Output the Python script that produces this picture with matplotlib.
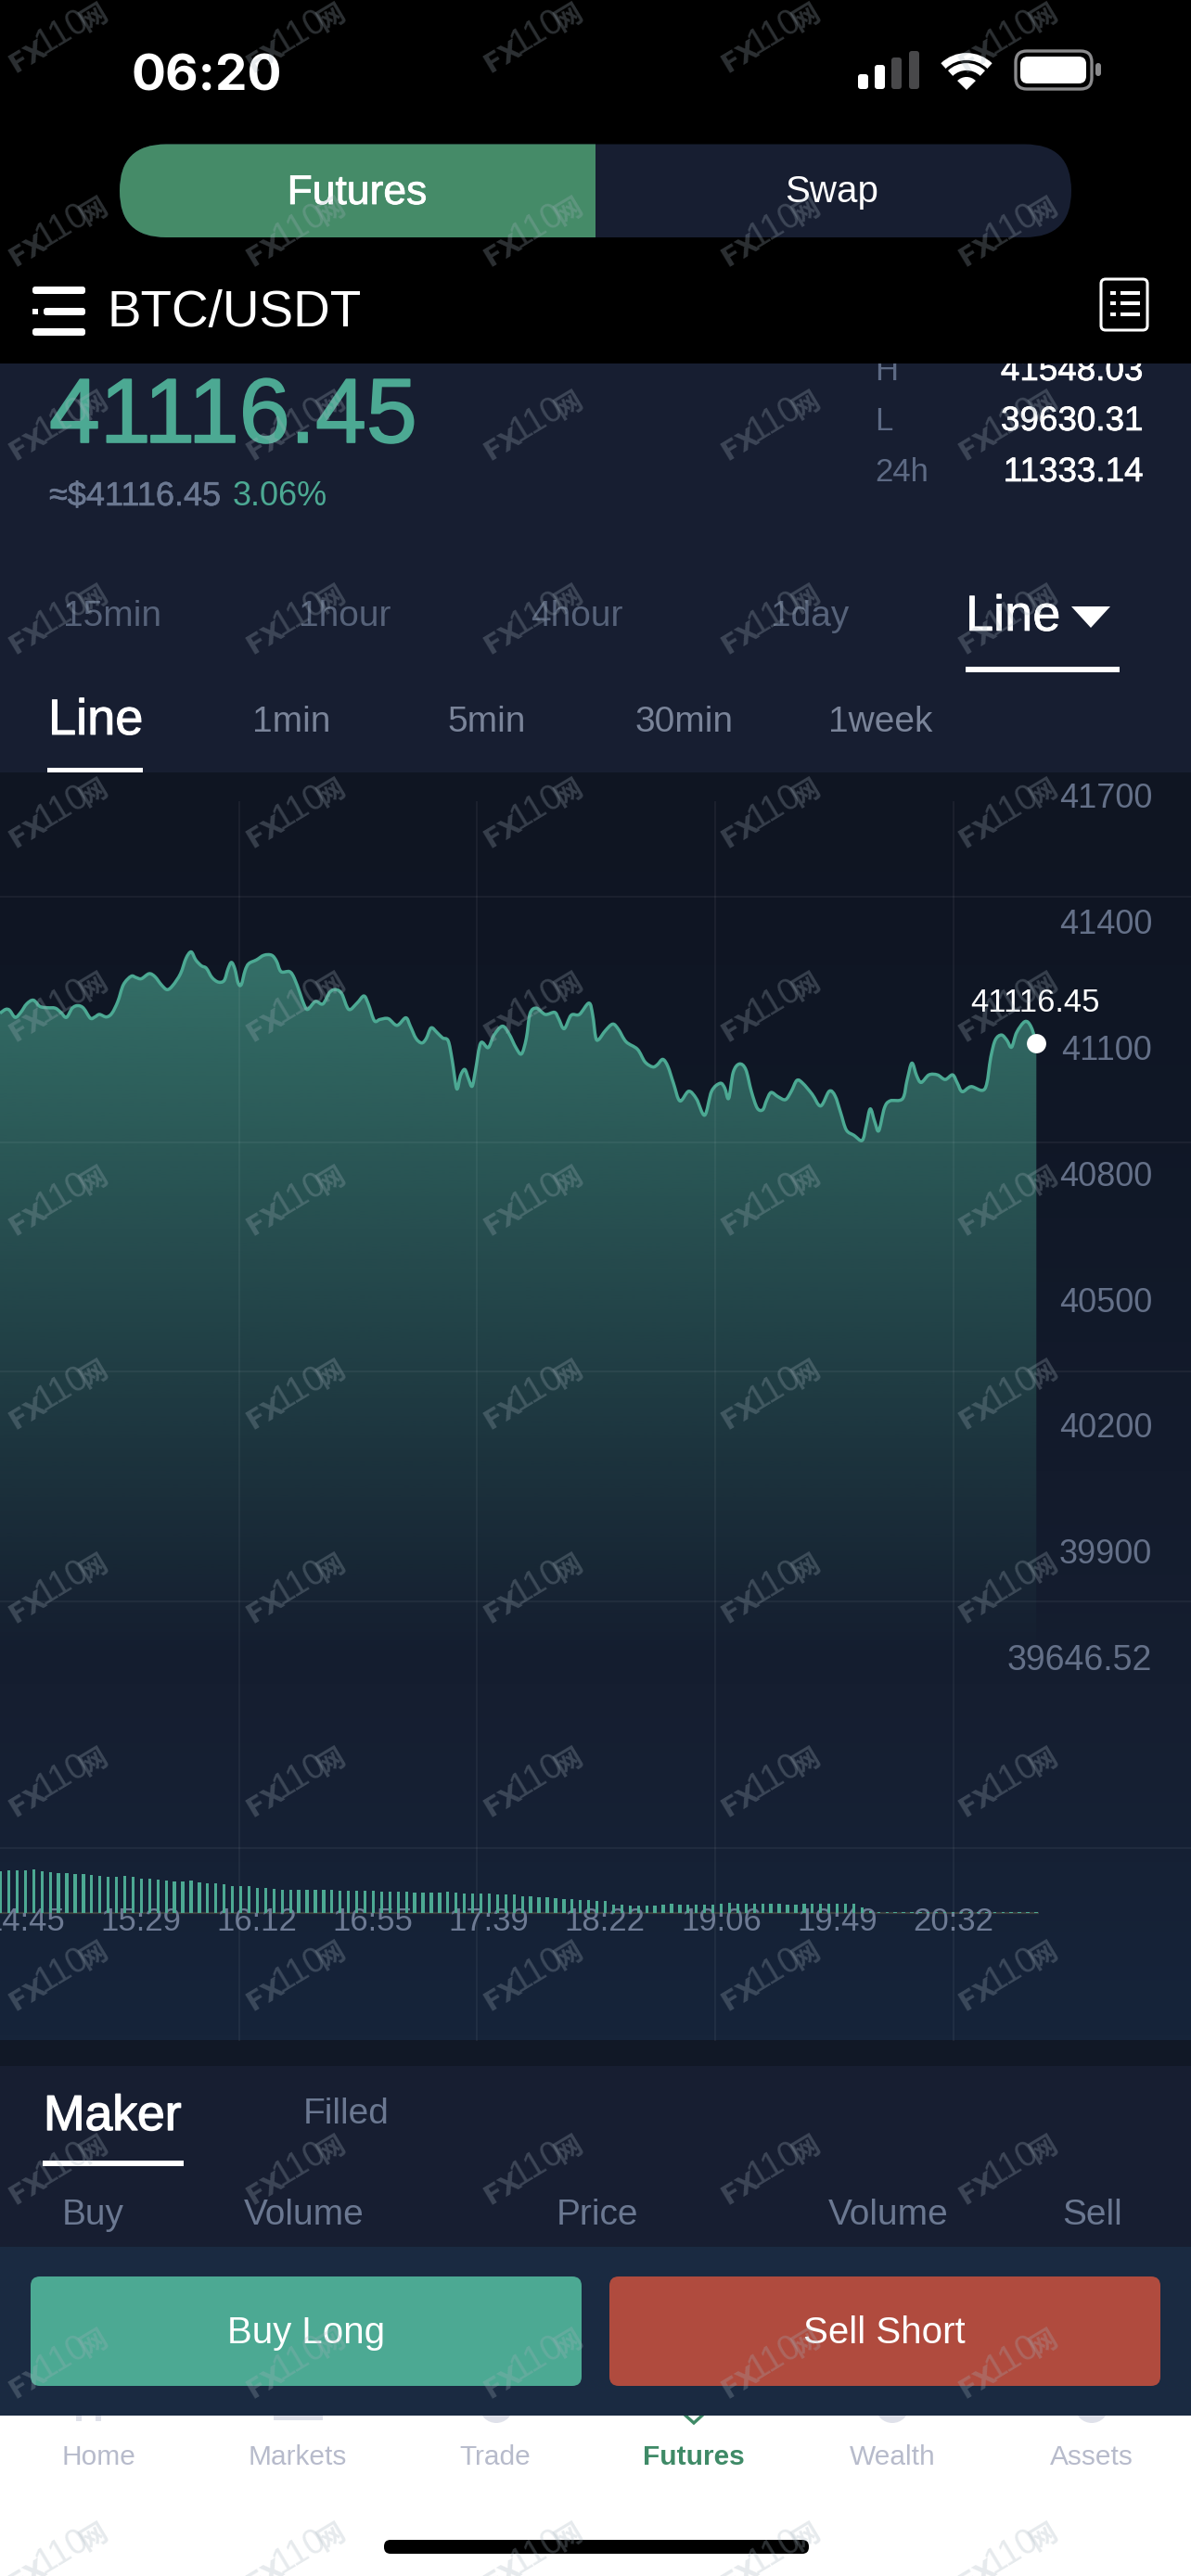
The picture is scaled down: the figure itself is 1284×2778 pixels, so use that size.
import numpy as np
import matplotlib
matplotlib.use("Agg")
import matplotlib.pyplot as plt
import matplotlib.patheffects as pe
from matplotlib.patches import FancyBboxPatch, Rectangle, Arc, Wedge, Polygon, Circle, PathPatch
from matplotlib.path import Path
from matplotlib.colors import LinearSegmentedColormap, to_rgb

W, H = 1284, 2778
plt.rcParams['font.family'] = ['Liberation Sans', 'Noto Sans CJK SC', 'DejaVu Sans']

# price line, x = minutes since midnight
line_minutes = [876.3, 878.4, 879.9, 882.0, 884.1, 886.3, 888.8, 891.3, 894.1, 897.0, 899.1, 901.2, 903.4, 905.5,
                907.6, 910.2, 911.9, 913.6, 916.2, 918.3, 920.5, 922.6, 925.5, 927.3, 929.3, 932.2, 934.4, 936.9,
                939.0, 941.1, 944.0, 946.1, 948.0, 949.7, 951.8, 953.7, 955.8, 958.2, 960.4, 961.8, 963.1, 964.4,
                965.6, 966.8, 968.2, 969.6, 972.5, 975.3, 978.2, 980.0, 981.7, 984.9, 986.7, 988.9, 990.3, 991.7,
                994.6, 997.4, 1000.0, 1002.4, 1004.5, 1007.1, 1010.2, 1012.8, 1014.5, 1016.7, 1018.8, 1021.9,
                1025.2, 1028.5, 1030.2, 1032.3, 1034.5, 1036.2, 1038.0, 1040.2, 1042.3, 1044.4, 1045.9, 1047.6,
                1049.0, 1050.6, 1052.0, 1053.4, 1054.7, 1056.6, 1059.4, 1061.5, 1064.7, 1067.2, 1069.8, 1071.9,
                1073.7, 1075.1, 1077.5, 1080.8, 1084.3, 1085.8, 1087.9, 1090.5, 1093.6, 1097.2, 1098.6, 1099.7,
                1100.8, 1103.3, 1106.1, 1108.2, 1111.1, 1115.4, 1118.2, 1121.1, 1122.8, 1124.9, 1126.8, 1128.9,
                1131.3, 1134.6, 1137.5, 1140.6, 1143.2, 1146.4, 1148.1, 1149.6, 1151.3, 1153.6, 1156.0, 1158.1,
                1160.3, 1162.4, 1163.8, 1165.5, 1168.1, 1170.9, 1173.1, 1175.2, 1177.4, 1180.9, 1184.1, 1187.3,
                1189.5, 1191.6, 1193.7, 1196.6, 1199.7, 1201.2, 1202.7, 1204.4, 1205.9, 1208.0, 1210.1, 1214.8,
                1216.5, 1218.3, 1220.1, 1221.8, 1224.7, 1227.9, 1230.8, 1233.6, 1235.4, 1237.2, 1240.5, 1245.7,
                1247.9, 1249.6, 1251.9, 1253.9, 1255.7, 1257.6, 1260.7, 1262.9, 1265.0]
line_price = [41187, 41196, 41194, 41177, 41189, 41209, 41218, 41203, 41200, 41199, 41189, 41177, 41199, 41205,
              41199, 41175, 41178, 41184, 41178, 41187, 41215, 41255, 41275, 41272, 41269, 41281, 41274, 41254,
              41243, 41253, 41281, 41318, 41333, 41314, 41300, 41294, 41272, 41261, 41265, 41292, 41308, 41292,
              41259, 41255, 41288, 41305, 41314, 41325, 41325, 41311, 41286, 41286, 41270, 41233, 41208, 41196,
              41215, 41209, 41237, 41243, 41233, 41196, 41211, 41228, 41208, 41169, 41172, 41174,
              41158, 41176, 41156, 41127, 41116, 41127, 41152, 41141, 41128, 41121, 41075, 41007,
              41038, 41053, 41031, 41013, 41053, 41116, 41105, 41134, 41156, 41138, 41105, 41090,
              41127, 41186, 41199, 41184, 41189, 41174, 41150, 41182, 41184, 41211, 41182, 41130,
              41124, 41145, 41161, 41149, 41119, 41101, 41071, 41059, 41064, 41077, 41060, 41020,
              40978, 41001, 40983, 40944, 41001, 41020, 41009, 40984, 41046, 41066, 41053, 41001,
              40961, 40957, 40979, 40998, 40988, 40981, 41001, 41027, 41020, 40994, 40966, 41001,
              40990, 40950, 40909, 40896, 40884, 40920, 40959, 40928, 40907, 40961, 40978, 40983,
              41027, 41068, 41038, 41022, 41040, 41040, 41029, 41040, 41020, 41000, 41012, 41007,
              41082, 41123, 41135, 41123, 41106, 41141, 41167, 41156, 41116.45]
last_price = 41116.45
low_price = 39646.52

# volume bars, one per candle
volume = [136, 137, 138, 139, 140, 136, 131, 130, 128, 127, 125, 123, 119, 118, 117, 119, 116, 112, 110, 108, 105,
          103, 103, 104, 99, 97, 95, 92, 88, 88, 88, 82, 80, 78, 76, 76, 76, 75, 74, 75, 74, 72, 73,
          72, 72, 71, 68, 68, 69, 68, 67, 65, 65, 67, 69, 67, 63, 62, 63, 62, 60, 60, 59, 54, 53, 52, 50, 48, 45,
          44, 43, 42, 40, 40, 28, 26, 25, 24, 25, 25, 27, 29, 28, 28, 28, 27, 28, 29, 32,
          30, 30, 30, 30, 30, 31, 28, 28, 30, 30, 30, 30, 30, 30, 30, 18, 7,
          3, 3, 3, 3, 3, 3, 3, 3, 3, 3, 3, 3, 3, 3, 3, 3, 3, 3, 3, 3]
volume_start = 876.5
volume_step = 3.107

price_ticks = [41700, 41400, 41100, 40800, 40500, 40200, 39900]
time_labels = ['14:45', '15:29', '16:12', '16:55', '17:39', '18:22', '19:06', '19:49', '20:32']
time_slots = [885.5, 929.0, 972.6, 1016.1, 1059.7, 1103.2, 1146.8, 1190.3, 1233.9]

stat_names = ['H', 'L', '24h']
stat_values = ['41548.03', '39630.31', '11333.14']
tabs_top = ['15min', '1hour', '4hour', '1day']
tabs_top_x = [121, 372, 622, 873]
tabs_low = ['1min', '5min', '30min', '1week']
tabs_low_x = [314, 525, 738, 949]
book_heads = ['Buy', 'Volume', 'Price', 'Volume', 'Sell']
book_heads_x = [100, 328, 644, 958, 1178]
nav_names = ['Home', 'Markets', 'Trade', 'Futures', 'Wealth', 'Assets']
nav_x = [106, 321, 534, 748, 962, 1177]

GREEN = '#4ca993'
NAVY = '#171e31'
DIM = '#6b7891'
XMIN, XMAX = 876.3, 1323.0
YMIN, YMAX = 38740.8, 41760.5
PX_PER_USD = 0.4527

fig = plt.figure(figsize=(W / 100, H / 100), dpi=100, facecolor='black')

# page layer in pixel coordinates
ax = fig.add_axes([0, 0, 1, 1], zorder=0)
ax.set_xlim(0, W)
ax.set_ylim(H, 0)
ax.axis('off')


def label(x, y, s, size, color='white', ha='center', z=2, heavy=0, **kw):
    t = ax.text(x, y, s, fontsize=size, color=color, ha=ha, va='baseline', zorder=z, **kw)
    if heavy:
        t.set_path_effects([pe.withStroke(linewidth=heavy, foreground=color)])
    return t


def rbox(x0, y0, x1, y1, r, **kw):
    p = FancyBboxPatch((x0, y0), x1 - x0, y1 - y0, boxstyle='round,pad=0,rounding_size=%s' % r, **kw)
    ax.add_patch(p)
    return p


def rect(x0, y0, x1, y1, color, z=1):
    ax.add_patch(Rectangle((x0, y0), x1 - x0, y1 - y0, fc=color, ec='none', zorder=z))


def smooth_path(xs, ys):
    # bezier through the read points, the app draws its line rounded too
    pts = np.column_stack([xs, ys]).astype(float)
    tan = np.gradient(pts, axis=0)
    verts = [pts[0]]
    codes = [Path.MOVETO]
    for i in range(len(pts) - 1):
        verts += [pts[i] + tan[i] / 3, pts[i + 1] - tan[i + 1] / 3, pts[i + 1]]
        codes += [Path.CURVE4] * 3
    return np.array(verts), codes


# main blocks
rect(0, 392, W, 833, NAVY)
rect(0, 2200, W, 2228, '#111826')
rect(0, 2228, W, 2423, NAVY)
rect(0, 2605, W, H, 'white')
bg_cmap = LinearSegmentedColormap.from_list('bg', [(0, '#0f1522'), (0.15, '#0f1624'), (0.55, '#131b2c'),
                                                   (0.72, '#151e30'), (1, '#16243a')])
ax.imshow(np.linspace(0, 1, 256).reshape(-1, 1), extent=(0, W, 2200, 833), cmap=bg_cmap, aspect='auto', zorder=1)
ax.set_xlim(0, W)
ax.set_ylim(H, 0)

# icon stubs poking out under the buttons panel
stub = '#dfe1ea'
rect(82, 2600, 88, 2611, stub, 2)
rect(103, 2600, 109, 2611, stub, 2)
rect(295, 2600, 348, 2610, stub, 2)
for cx in [535, 962, 1177]:
    ax.add_patch(Circle((cx, 2595), 18, fc=stub, ec='none', zorder=2))
ax.add_patch(Polygon([[737, 2603], [748, 2613], [759, 2603]], closed=False, fc='none', ec='#3f8a67', lw=2.4, zorder=2))
rect(0, 2423, W, 2605, '#1a2a41', 3)

# black header sits over the scrolled stats
rect(0, 0, W, 392, 'black', 5)

# status bar
label(142, 97, '06:20', 39.5, ha='left', z=6, weight='bold', family='Inter')
sig_x = [925, 943, 961, 980]
sig_top = [80, 70, 62, 55]
sig_col = ['white', 'white', '#48484a', '#48484a']
for sx, st, sc in zip(sig_x, sig_top, sig_col):
    rbox(sx, st, sx + 11, 96, 3, fc=sc, ec='none', zorder=6)
ax.add_patch(Wedge((1042, 97), 14, 225, 315, fc='white', ec='none', zorder=6))
for rad in [25, 36]:
    ax.add_patch(Arc((1042, 97), rad * 2, rad * 2, theta1=226, theta2=314, color='white', lw=5.6, zorder=6))
rbox(1095, 55, 1177, 96, 12, fc='none', ec='#8a8a8c', lw=2.4, zorder=6)
rbox(1100, 61, 1171, 90, 8, fc='white', ec='none', zorder=6)
rbox(1181, 68, 1187, 82, 3, fc='#8a8a8c', ec='none', zorder=6)

# futures / swap switch
rbox(129, 155.5, 1155, 256, 50, fc=NAVY, ec='none', zorder=6)
pill = rbox(129, 155.5, 1155, 256, 50, fc='#458b68', ec='none', zorder=6)
pill.set_clip_path(Rectangle((0, 0), 642, 400, transform=ax.transData))
label(385, 220, 'Futures', 32, z=6, heavy=0.6)
label(897, 218, 'Swap', 29, z=6)

# pair row
for yy, x0 in [(313, 35), (336, 47), (358, 35)]:
    rbox(x0, yy - 4, 92, yy + 4, 3, fc='white', ec='none', zorder=6)
rect(35, 333, 41, 339, 'white', 6)
label(116, 352, 'BTC/USDT', 39.5, ha='left', z=6)
rbox(1187, 301, 1237, 356, 5, fc='none', ec='white', lw=2.2, zorder=6)
for yy in [316, 327, 339]:
    rect(1197, yy - 2, 1203, yy + 2, 'white', 6)
    rect(1208, yy - 2, 1229, yy + 2, 'white', 6)

# ticker block
label(53, 477, '41116.45', 71, GREEN, ha='left', heavy=1.2)
label(53, 545, '≈$41116.45', 26, DIM, ha='left', heavy=0.4)
label(251, 545, '3.06%', 26, GREEN, ha='left')
for name, val, base in zip(stat_names, stat_values, [410, 464, 519]):
    label(943, base, name, 25, '#5d6a84', ha='left')
    label(1232, base, val, 26.5, ha='right', heavy=0.5)

# period tabs
for name, xx in zip(tabs_top, tabs_top_x):
    label(xx, 675, name, 28, '#566279')
label(1041, 680, 'Line', 39, ha='left', heavy=0.5)
ax.add_patch(Polygon([[1155, 654], [1197, 654], [1176, 677]], fc='white', ec='none', zorder=2))
rect(1041, 719, 1207, 725, 'white', 2)
for name, xx in zip(tabs_low, tabs_low_x):
    label(xx, 789, name, 28, '#7a8499')
label(52, 792, 'Line', 39, ha='left', heavy=0.7)
rect(51, 828, 154, 833, 'white', 2)

# order book header
label(47, 2297, 'Maker', 38.5, ha='left', heavy=1.0)
rect(46, 2330, 198, 2336, 'white', 2)
label(373, 2290, 'Filled', 28, DIM)
for name, xx in zip(book_heads, book_heads_x):
    label(xx, 2399, name, 28, DIM)

# buttons
rbox(33, 2455, 627, 2573, 10, fc=GREEN, ec='none', zorder=4)
rbox(657, 2455, 1251, 2573, 10, fc='#b04b3e', ec='none', zorder=4)
label(330, 2527, 'Buy Long', 29, z=5)
label(953, 2527, 'Sell Short', 29, z=5)

# bottom nav
for name, xx in zip(nav_names, nav_x):
    act = name == 'Futures'
    label(xx, 2658, name, 21.5, '#3f8a67' if act else '#b7bbcb', weight='bold' if act else 'normal')
rbox(414, 2739, 872, 2754, 7, fc='black', ec='none', zorder=2)

# price chart
chart = fig.add_axes([0, 1 - 2200 / H, 1, (2200 - 833) / H], zorder=1)
chart.patch.set_alpha(0)
chart.axis('off')

verts, codes = smooth_path(line_minutes, line_price)
area = Path(np.vstack([verts, [[line_minutes[-1], low_price], [line_minutes[0], low_price], [line_minutes[0], low_price]]]),
            codes + [Path.LINETO, Path.LINETO, Path.CLOSEPOLY])
fade = np.zeros((256, 1, 4))
fade[:, 0, :3] = to_rgb(GREEN)
fade[:, 0, 3] = np.linspace(0.62, 0.0, 256)
img = chart.imshow(fade, extent=(XMIN, line_minutes[-1], low_price, 41340), aspect='auto', origin='upper', zorder=1)
chart.set_xlim(XMIN, XMAX)
chart.set_ylim(YMIN, YMAX)
img.set_clip_path(area, transform=chart.transData)

chart.add_patch(PathPatch(Path(verts, codes), fc='none', ec=GREEN, lw=2.5, joinstyle='round', zorder=2))
chart.plot([line_minutes[-1]], [last_price], 'o', color='white', ms=15, mec='none', zorder=3)
chart.annotate('%.2f' % last_price, (line_minutes[-1], last_price), xytext=(-1, 31), textcoords='offset points',
               ha='center', va='center', fontsize=25, color='white', zorder=4)

for p in price_ticks:
    chart.annotate(str(p), (XMAX, p), xytext=(-30, -1), textcoords='offset points', ha='right', va='center',
                   fontsize=26, color='#647088', zorder=4)
chart.annotate('%.2f' % low_price, (XMAX, low_price), xytext=(-30, -1), textcoords='offset points', ha='right',
               va='center', fontsize=27, color='#647088', zorder=4)

# volume pane shares the time scale
vol = fig.add_axes([0, 1 - 2063 / H, 1, 63 / H], zorder=1)
vol.patch.set_alpha(0)
vol.axis('off')
vol.set_xlim(XMIN, XMAX)
vol.set_ylim(0, 189)
vol_t = volume_start + np.arange(len(volume)) * volume_step
vol.bar(vol_t, volume, width=1.15, color=GREEN, linewidth=0)

chart.hlines(YMIN + (2200 - 2063) / PX_PER_USD, XMIN, 1266, color='#3b3f40', lw=1.6, zorder=2)
for slot, name in zip(time_slots, time_labels):
    chart.text(slot, YMIN + (2200 - 2072) / PX_PER_USD, name, fontsize=25, color='#6d7a93', ha='center', va='center',
               zorder=4, clip_on=True)

# grid and watermark on top
top = fig.add_axes([0, 0, 1, 1], zorder=3)
top.patch.set_alpha(0)
top.axis('off')
top.set_xlim(0, W)
top.set_ylim(H, 0)
for gy in [967, 1232, 1479, 1727, 1993]:
    top.plot([0, W], [gy, gy], color='white', alpha=0.05, lw=1.5)
for gx in [258, 514, 771, 1028]:
    top.plot([gx, gx], [865, 2200], color='white', alpha=0.05, lw=1.5)

mark_color = '#a4b2bc'
for row in range(14):
    for col in range(5):
        cx, cy = 61 + 256 * col, 41 + 209 * row
        common = dict(color=mark_color, alpha=0.27, rotation=31, rotation_mode='anchor', ha='center', va='center')
        top.text(cx - 31, cy + 20, 'FX', fontsize=21, weight='bold', family='DejaVu Sans', **common)
        top.text(cx + 6, cy - 6, '110', fontsize=27, family='Liberation Sans', **common)
        top.text(cx + 40, cy - 23, '网', fontsize=21, family='Noto Sans CJK SC', weight='bold', **common)

fig.savefig('out.png', dpi=100, facecolor='black')
